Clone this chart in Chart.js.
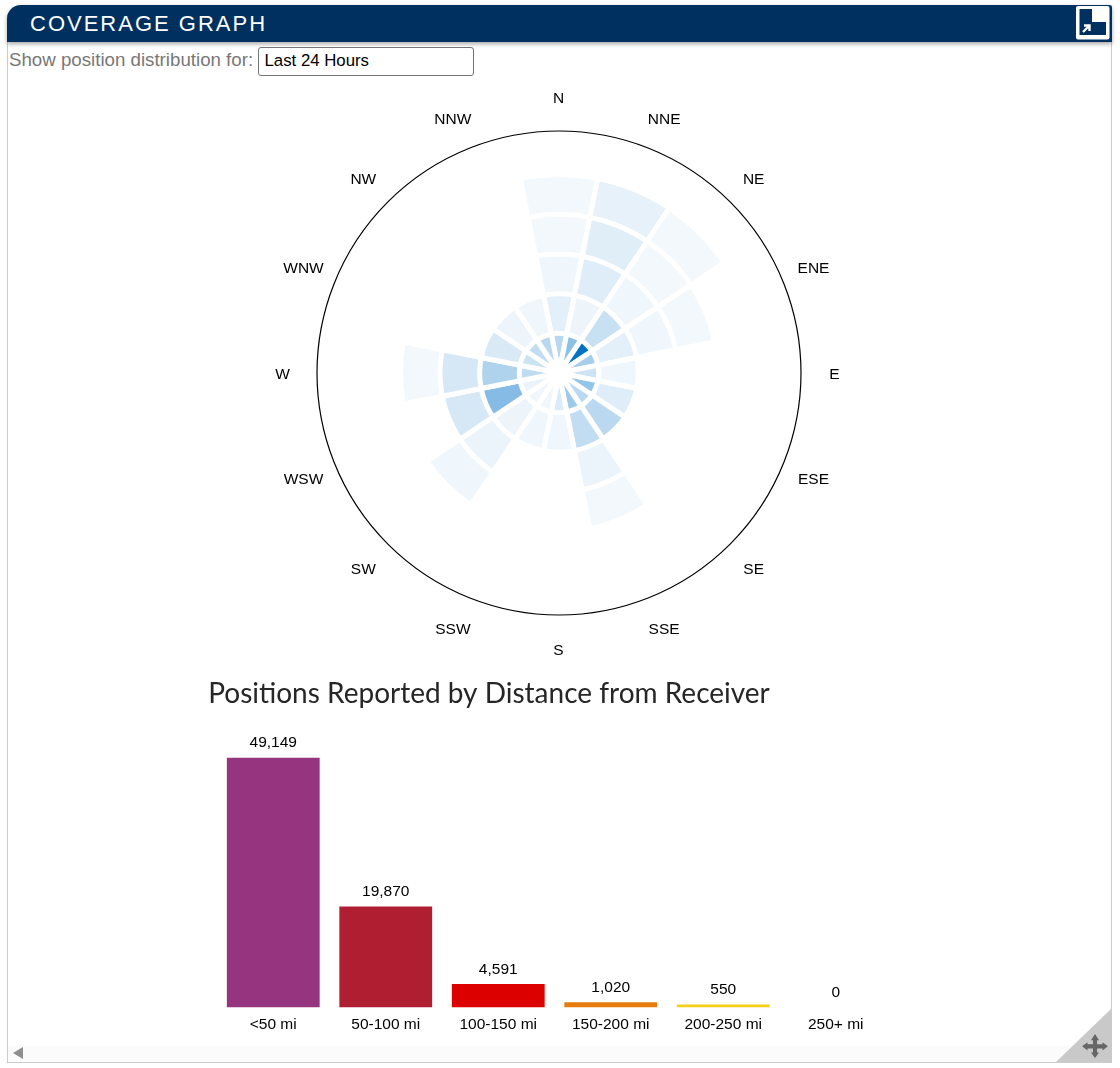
<!DOCTYPE html>
<html>
<head>
<meta charset="utf-8">
<script src="https://cdn.jsdelivr.net/npm/chart.js@4"></script>
<style>
html,body{margin:0;padding:0;background:#fff;width:1120px;height:1068px;overflow:hidden;font-family:"Liberation Sans",Arial,sans-serif}
#panel{position:absolute;left:7px;top:5px;width:1103px;height:1057px;border:1px solid #ccc;border-top:none;border-radius:14px 0 0 0;}
#head{position:absolute;left:7px;top:5px;width:1105px;height:37px;background:#00305f;border-radius:14px 3px 0 0;box-shadow:0 2px 4px rgba(0,0,0,.35);color:#fff;font-size:22px;letter-spacing:2px;line-height:37px;}
#head span{position:absolute;left:23px;top:0;white-space:nowrap}
#lbl{position:absolute;left:9px;top:49px;font-size:18.7px;line-height:21px;color:#777;white-space:nowrap}
#sel{position:absolute;left:258px;top:47px;width:214px;height:27px;border:1px solid #767676;border-radius:3px;font-size:16.8px;line-height:26px;color:#000;text-indent:5.5px;background:#fff}
#bar{position:absolute;left:8px;top:1046px;width:1103px;height:16px;background:#fbfbfb}
canvas{position:absolute}
#polar{left:259px;top:73px}
#bars{left:50px;top:669px}
svg{position:absolute}
</style>
</head>
<body>
<div id="panel"></div>
<div id="bar"></div>
<div id="head"><span>COVERAGE GRAPH</span></div>
<svg style="left:1076px;top:5px" width="35" height="35" viewBox="0 0 35 35">
<rect x="0" y="1" width="33.5" height="33.5" rx="2" fill="#fff"/>
<path d="M3.5 4H16V17H30V30H3.5Z" fill="#00305f"/>
<path d="M7 27L13 21M8 20.5H13.5V26" stroke="#fff" stroke-width="2.4" fill="none"/>
</svg>
<div id="lbl">Show position distribution for:</div>
<div id="sel">Last 24 Hours</div>
<svg style="left:12px;top:1046px" width="12" height="14"><path d="M11 1V13L1 7Z" fill="#8e8e8e"/></svg>
<svg style="left:1056px;top:1008px" width="56" height="54">
<path d="M56 0V54H0Z" fill="#c9c9c9"/>
<path d="M39 25L45 34H42V40H50V37L58 43L50 49V46H42V52H45L39 60L33 52H36V46H28V49L20 43L28 37V40H36V34H33Z" transform="translate(39,38) scale(.68) translate(-39,-42.5)" fill="#666"/>
</svg>
<canvas id="polar" width="600" height="600"></canvas>
<canvas id="bars" width="878" height="379"></canvas>
<script>
const directions=["N","NNE","NE","ENE","E","ESE","SE","SSE","S","SSW","SW","WSW","W","WNW","NW","NNW"];
const ringBands=["<50 mi","50-100 mi","100-150 mi","150-200 mi","200-250 mi","250+ mi"];
// Share of the busiest cell per direction, read from the shading
const ring0=[.28,.45,1,.35,.2,.42,.27,.38,.14,.06,.06,.08,.25,.2,.24,.28];
const ring1=[.11,.07,.22,.11,.06,.13,.27,.24,.06,.06,.07,.48,.31,.15,.07,.06];
const ring2=[.06,.13,.06,.06,0,0,0,.08,0,0,.08,.16,.16,0,0,0];
const ring3=[.05,.12,.05,.05,0,0,0,.05,0,0,.06,0,.05,0,0,0];
const ring4=[.05,.1,.05,0,0,0,0,0,0,0,0,0,0,0,0,0];
const ring5=[0,0,0,0,0,0,0,0,0,0,0,0,0,0,0,0];
const rings=[ring0,ring1,ring2,ring3,ring4,ring5];

const distanceLabels=ringBands;
const positionCounts=[49149,19870,4591,1020,550,0];
const barColors=["#963480","#b01f31","#dc0000","#e67c0e","#f8cf18","#888888"];
const chartTitle="Positions Reported by Distance from Receiver";

const base=[0,114,198];
function shade(a){return "rgb("+base.map(c=>Math.round(255+(c-255)*a)).join(",")+")";}

const dirLabels={id:"dirLabels",afterDraw(c){
  const s=c.scales.r,x=c.ctx;
  x.save();x.font='15.5px "Liberation Sans"';x.fillStyle="#000";x.textAlign="center";x.textBaseline="middle";
  c.data.labels.forEach((t,i)=>{const p=s.getPointPosition(i,276,Math.PI/16);x.fillText(t,p.x-0.5,p.y+1.5);});
  x.restore();
}};
new Chart(document.getElementById("polar"),{
  type:"polarArea",
  data:{labels:directions,datasets:rings.map((r,k)=>({
    label:ringBands[k],
    data:r.map(v=>v>0?k+1:0),
    backgroundColor:r.map(shade),
    borderColor:"#fff",borderWidth:5
  }))},
  options:{responsive:false,animation:false,layout:{padding:58},
    plugins:{legend:{display:false},tooltip:{enabled:false}},
    scales:{r:{min:0,max:6.1,startAngle:-11.25,
      ticks:{display:false,stepSize:6.1},
      grid:{circular:true,color:"#000",lineWidth:1.2},
      angleLines:{display:false},pointLabels:{display:false}}}},
  plugins:[dirLabels]
});

const valueLabels={id:"valueLabels",afterDatasetsDraw(c){
  const x=c.ctx,m=c.getDatasetMeta(0);
  x.save();x.font='15.5px "Liberation Sans"';x.fillStyle="#000";x.textAlign="center";x.textBaseline="middle";
  m.data.forEach((b,i)=>x.fillText(c.data.datasets[0].data[i].toLocaleString("en-US"),b.x,b.y-14.5));
  x.restore();
}};
new Chart(document.getElementById("bars"),{
  type:"bar",
  data:{labels:distanceLabels,datasets:[{data:positionCounts,backgroundColor:barColors,barPercentage:.825,categoryPercentage:1}]},
  options:{responsive:false,animation:false,
    layout:{padding:{left:36,right:36,top:0,bottom:6}},
    plugins:{legend:{display:false},tooltip:{enabled:false},
      title:{display:true,text:chartTitle,color:"#262626",font:{family:"Lato",size:28,weight:"normal"},padding:{top:8,bottom:47}}},
    scales:{
      x:{grid:{display:false,drawTicks:false},border:{display:false},ticks:{color:"#000",font:{family:"Liberation Sans",size:15.5},padding:8,maxRotation:0}},
      y:{min:0,max:49149,grid:{display:false,drawTicks:false},border:{display:false},ticks:{display:false},afterFit(s){s.width=131;}}}},
  plugins:[valueLabels]
});
</script>
</body>
</html>
